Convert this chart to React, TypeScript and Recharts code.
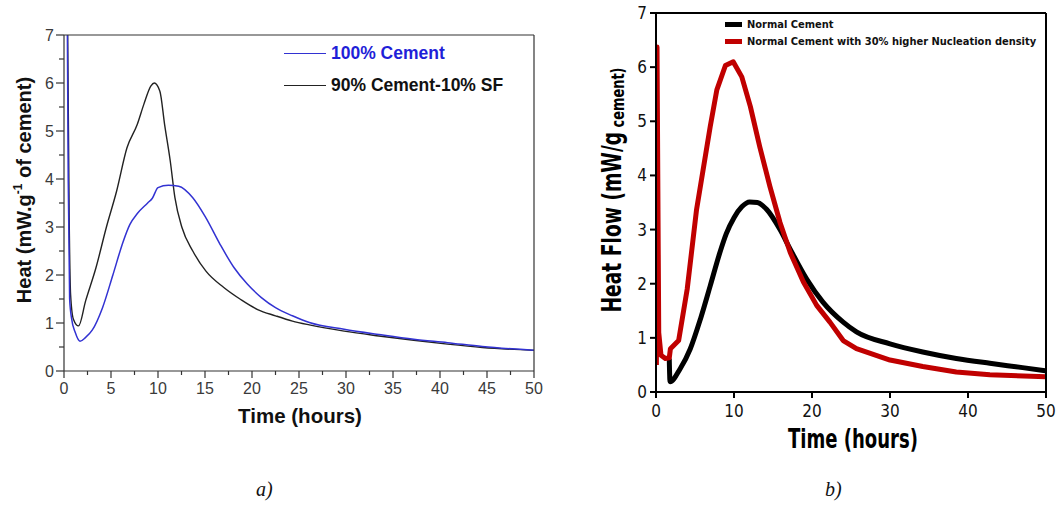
import React from "react";
import { LineChart, Line, XAxis, YAxis, Legend } from "recharts";

// panel a) – calorimetry, 100% cement vs 10% silica fume
const cementT = [0.3, 0.45, 0.6, 0.8, 1.2, 1.7, 2.3, 3.0, 4.1, 5.2, 6.3, 7.0, 7.8, 8.9, 9.4, 10.0, 11.1, 12.2, 13.7, 15.1, 16.6, 18.1, 19.5, 21, 22.5, 24.3, 26.1, 29.8, 33.5, 37.2, 40.8, 44.5, 50];
const cementV = [9, 4, 1.5, 1.1, 0.8, 0.62, 0.7, 0.85, 1.32, 2.0, 2.7, 3.05, 3.28, 3.5, 3.6, 3.82, 3.87, 3.85, 3.61, 3.19, 2.64, 2.15, 1.81, 1.53, 1.32, 1.15, 1.01, 0.87, 0.76, 0.66, 0.59, 0.51, 0.43];
const sfT = [0.35, 0.55, 0.7, 1.0, 1.55, 2.3, 3.4, 4.5, 5.6, 6.7, 7.8, 8.5, 9.25, 9.6, 10.2, 10.7, 11.3, 11.8, 12.55, 13.7, 15.1, 17, 18.8, 20.6, 22.5, 24.3, 26.1, 29.8, 33.5, 37.2, 40.8, 44.5, 50];
const sfV = [8, 3.2, 1.6, 1.08, 0.94, 1.46, 2.15, 2.99, 3.75, 4.65, 5.14, 5.56, 5.94, 6.0, 5.83, 5.14, 4.38, 3.61, 2.99, 2.5, 2.08, 1.74, 1.49, 1.28, 1.15, 1.04, 0.96, 0.83, 0.73, 0.64, 0.56, 0.49, 0.43];

// panel b) – simulation, normal vs higher nucleation density
const normalT = [1.7, 1.8, 3.1, 4.4, 5.7, 6.95, 8.2, 9.0, 10.0, 11.0, 12.0, 13.0, 14.2, 15.9, 17.2, 19.3, 21.4, 24, 25.7, 30, 34.2, 38.5, 42.8, 47, 50];
const normalV = [0.62, 0.19, 0.43, 0.8, 1.35, 1.96, 2.58, 2.92, 3.22, 3.42, 3.51, 3.5, 3.37, 3.0, 2.64, 2.09, 1.66, 1.29, 1.11, 0.89, 0.74, 0.62, 0.53, 0.45, 0.39];
const nuclT = [0.05, 0.13, 0.35, 0.64, 1.2, 1.7, 1.85, 2.9, 4.0, 5.2, 6.95, 7.8, 8.9, 9.9, 11, 12.1, 13.3, 14.6, 15.9, 17.2, 18.9, 20.6, 22.3, 24, 25.7, 30, 34.2, 38.5, 42.8, 50];
const nuclV = [0.5, 6.37, 1.1, 0.68, 0.62, 0.63, 0.8, 0.95, 1.9, 3.37, 4.9, 5.58, 6.03, 6.1, 5.82, 5.27, 4.53, 3.8, 3.13, 2.58, 2.03, 1.6, 1.29, 0.95, 0.8, 0.59, 0.47, 0.37, 0.32, 0.28];

const ticksA_x = [0, 2.5, 5, 7.5, 10, 12.5, 15, 17.5, 20, 22.5, 25, 27.5, 30, 32.5, 35, 37.5, 40, 42.5, 45, 47.5, 50];
const ticksA_y = [0, 0.5, 1, 1.5, 2, 2.5, 3, 3.5, 4, 4.5, 5, 5.5, 6, 6.5, 7];
const ticksB_x = [0, 10, 20, 30, 40, 50];
const ticksB_y = [0, 1, 2, 3, 4, 5, 6, 7];

const zip = (t: number[], v: number[]) => t.map((x, i) => ({ t: x, v: v[i] }));

const ARIAL = "'Liberation Sans', Arial, Helvetica, sans-serif";
const NARROW = "'Liberation Sans Narrow', 'DejaVu Sans Condensed', 'Liberation Sans', sans-serif";
const AXIS_A = "#333";

function TickAX({ x, y, payload }: any) {
  const major = payload.value % 5 === 0;
  return (
    <g>
      <line x1={x} x2={x} y1={y} y2={y + (major ? 7 : 4)} stroke={AXIS_A} strokeWidth={1.2} />
      {major && (
        <text x={x} y={y + 23} textAnchor="middle" fontSize={16} fill="#3a3a3a" fontFamily={ARIAL}>
          {payload.value}
        </text>
      )}
    </g>
  );
}

function TickAY({ x, y, payload }: any) {
  const major = payload.value % 1 === 0;
  return (
    <g>
      <line x1={x} x2={x - (major ? 8 : 5)} y1={y} y2={y} stroke={AXIS_A} strokeWidth={1.2} />
      {major && (
        <text x={x - 10} y={y} dy="0.36em" textAnchor="end" fontSize={16} fill="#3a3a3a" fontFamily={ARIAL}>
          {payload.value}
        </text>
      )}
    </g>
  );
}

function LegendA() {
  const row = (color: string, text: string, textColor: string) => (
    <div style={{ display: "flex", alignItems: "center", height: 32 }}>
      <div style={{ width: 42, flexShrink: 0, height: 0, borderTop: `1.5px solid ${color}`, marginRight: 5 }} />
      <span style={{ fontFamily: ARIAL, fontWeight: 700, fontSize: 17.5, color: textColor, whiteSpace: "nowrap" }}>{text}</span>
    </div>
  );
  return (
    <div style={{ width: 240 }}>
      {row("#3232d2", "100% Cement", "#1f1fd8")}
      {row("#222", "90% Cement-10% SF", "#111")}
    </div>
  );
}

function LegendB() {
  const row = (color: string, text: string) => (
    <div style={{ display: "flex", alignItems: "center", height: 17 }}>
      <div style={{ width: 17, flexShrink: 0, height: 5, background: color, marginRight: 5 }} />
      <span style={{ fontFamily: "'DejaVu Sans Condensed', 'DejaVu Sans', sans-serif", fontStretch: "condensed", fontWeight: 700, fontSize: 11, color: "#111", whiteSpace: "nowrap" }}>{text}</span>
    </div>
  );
  return (
    <div style={{ width: 330 }}>
      {row("#000", "Normal Cement")}
      {row("#c00000", "Normal Cement with 30% higher Nucleation density")}
    </div>
  );
}

function PanelA() {
  return (
    <LineChart width={560} height={450} margin={{ top: 34, right: 25, bottom: 49, left: 14 }}>
      <XAxis
        dataKey="t"
        type="number"
        domain={[0, 50]}
        ticks={ticksA_x}
        interval={0}
        allowDataOverflow
        height={30}
        tickSize={0}
        tickMargin={0}
        tickLine={false}
        tick={<TickAX />}
        axisLine={{ stroke: AXIS_A, strokeWidth: 1.2 }}
        label={{
          content: () => (
            <text x={300} y={423} textAnchor="middle" fontFamily={ARIAL} fontWeight={700} fontSize={20.5} fill="#111">
              Time (hours)
            </text>
          ),
        }}
      />
      <XAxis xAxisId="top" orientation="top" type="number" domain={[0, 50]} height={1} tick={false} tickLine={false} axisLine={{ stroke: AXIS_A, strokeWidth: 1.2 }} />
      <YAxis
        type="number"
        domain={[0, 7]}
        ticks={ticksA_y}
        interval={0}
        allowDataOverflow
        width={50}
        tickSize={0}
        tickMargin={0}
        tickLine={false}
        tick={<TickAY />}
        axisLine={{ stroke: AXIS_A, strokeWidth: 1.2 }}
        label={{
          content: () => (
            <text transform="translate(31,190) rotate(-90)" textAnchor="middle" fontFamily={ARIAL} fontWeight={700} fontSize={20} fill="#111">
              Heat (mW.g<tspan fontSize={12} dy={-9}>-1</tspan>
              <tspan dy={9}> of cement)</tspan>
            </text>
          ),
        }}
      />
      <YAxis yAxisId="right" orientation="right" type="number" domain={[0, 7]} width={1} tick={false} tickLine={false} axisLine={{ stroke: AXIS_A, strokeWidth: 1.2 }} />
      <Legend layout="horizontal" verticalAlign="middle" align="center" content={() => <LegendA />} wrapperStyle={{ top: 37, left: 284, width: 240 }} />
      <Line data={zip(sfT, sfV)} dataKey="v" type="monotone" stroke="#222" strokeWidth={1.4} dot={false} activeDot={false} isAnimationActive={false} />
      <Line data={zip(cementT, cementV)} dataKey="v" type="monotone" stroke="#3232d2" strokeWidth={1.5} dot={false} activeDot={false} isAnimationActive={false} />
    </LineChart>
  );
}

function PanelB() {
  const axis = { stroke: "#000", strokeWidth: 2 };
  const tickFont = { fontSize: 17, fill: "#111", fontFamily: NARROW };
  return (
    <LineChart width={496} height={470} margin={{ top: 5, right: 2, bottom: 48, left: 40 }}>
      <XAxis
        dataKey="t"
        type="number"
        domain={[0, 50]}
        ticks={ticksB_x}
        interval={0}
        allowDataOverflow
        height={30}
        tickSize={6}
        tickMargin={7}
        tickLine={axis}
        axisLine={axis}
        tick={tickFont}
        label={{
          content: () => (
            <text x={293} y={448} textAnchor="middle" fontFamily={NARROW} fontWeight={700} fontSize={26} textLength={130} lengthAdjust="spacingAndGlyphs" fill="#000">
              Time (hours)
            </text>
          ),
        }}
      />
      <XAxis xAxisId="top" orientation="top" type="number" domain={[0, 50]} ticks={ticksB_x} interval={0} height={8} tickSize={6} tick={false} tickLine={axis} axisLine={axis} />
      <YAxis
        type="number"
        domain={[0, 7]}
        ticks={ticksB_y}
        interval={0}
        allowDataOverflow
        width={56}
        tickSize={6}
        tickMargin={3}
        tickLine={axis}
        axisLine={axis}
        tick={tickFont}
        label={{
          content: () => (
            <text transform="translate(61,190) rotate(-90)" textAnchor="middle" fontFamily={NARROW} fontWeight={700} fontSize={26} textLength={245} lengthAdjust="spacingAndGlyphs" fill="#000">
              Heat Flow (mW/g<tspan fontSize={18} dy={3}> cement)</tspan>
            </text>
          ),
        }}
      />
      <YAxis yAxisId="right" orientation="right" type="number" domain={[0, 7]} ticks={ticksB_y} interval={0} width={8} tickSize={6} tick={false} tickLine={axis} axisLine={axis} />
      <Legend layout="horizontal" verticalAlign="middle" align="center" content={() => <LegendB />} wrapperStyle={{ top: 16, left: 165, width: 330 }} />
      <Line data={zip(normalT, normalV)} dataKey="v" type="monotone" stroke="#000" strokeWidth={5} dot={false} activeDot={false} isAnimationActive={false} />
      <Line data={zip(nuclT, nuclV)} dataKey="v" type="linear" stroke="#c00000" strokeWidth={5} strokeLinejoin="round" dot={false} activeDot={false} isAnimationActive={false} />
    </LineChart>
  );
}

export default function App() {
  const caption: React.CSSProperties = {
    position: "absolute",
    top: 478,
    fontFamily: "'Liberation Serif', 'Times New Roman', serif",
    fontStyle: "italic",
    fontSize: 20,
    color: "#111",
  };
  return (
    <div style={{ position: "absolute", left: 0, top: 0, width: 1056, height: 510, background: "#fff", overflow: "hidden" }}>
      <div style={{ position: "absolute", left: 0, top: 0 }}>
        <PanelA />
      </div>
      <div style={{ position: "absolute", left: 560, top: 0 }}>
        <PanelB />
      </div>
      <div style={{ ...caption, left: 256 }}>a)</div>
      <div style={{ ...caption, left: 825 }}>b)</div>
    </div>
  );
}
